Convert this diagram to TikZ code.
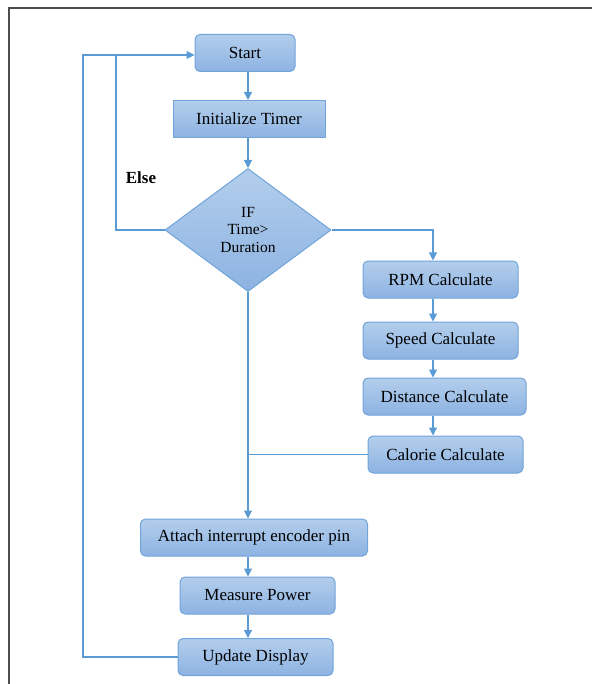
\documentclass[tikz,border=0pt]{standalone}
\usepackage{fontspec}
\setmainfont{Liberation Serif}
\usetikzlibrary{shapes.geometric,arrows.meta}
\definecolor{flowline}{HTML}{5B9BD5}
\definecolor{boxtop}{HTML}{B3CEEC}
\definecolor{boxbot}{HTML}{8DB3E2}
\definecolor{boxedge}{HTML}{70A4DA}
\tikzset{
  proc/.style={draw=boxedge, line width=1pt, rounded corners=5pt, top color=boxtop, bottom color=boxbot, minimum height=37pt, inner sep=2pt, font=\fontsize{17}{20}\selectfont},
  decision/.style={diamond, draw=boxedge, line width=1pt, top color=boxtop, bottom color=boxbot, minimum width=166pt, minimum height=123pt, inner sep=0pt, align=center, font=\fontsize{15.5}{17.5}\selectfont},
  flow/.style={draw=flowline, line width=1.1pt},
  arr/.style={flow, -{Triangle[length=8pt,width=8pt]}}
}

\begin{document}
\begin{tikzpicture}[x=1pt, y=1pt, yscale=-1]
\useasboundingbox (0,0) rectangle (592,684);
\draw[black!70, line width=1.3pt] (9,684) -- (9,8) -- (592,8);
\node[proc, minimum width=100pt] (start) at (245,53) {Start};
\node[proc, sharp corners, minimum width=152pt] (init) at (249,119) {Initialize Timer};
\node[decision] (check) at (248,230) {IF\\Time>\\Duration};
\node[proc, minimum width=155pt] (rpm) at (440.5,279.5) {RPM Calculate};
\node[proc, minimum width=155pt] (speed) at (440.5,340.5) {Speed Calculate};
\node[proc, minimum width=163pt] (distance) at (444.5,396.5) {Distance Calculate};
\node[proc, minimum width=155pt] (calorie) at (445.5,454.5) {Calorie Calculate};
\node[proc, minimum width=227pt] (attach) at (254,537.5) {Attach interrupt encoder pin};
\node[proc, minimum width=155pt] (power) at (257.5,595.5) {Measure Power};
\node[proc, minimum width=155pt] (update) at (255.5,657) {Update Display};
\node[font=\bfseries\fontsize{17}{20}\selectfont] (else) at (141,178) {Else};
\coordinate (elsetop) at (116,55);
\coordinate (looptop) at (83,55);
\coordinate (rcol) at (433,0);
\coordinate (mcol) at (248,0);
\draw[arr] (mcol |- start.south) -- (mcol |- init.north);
\draw[arr] (mcol |- init.south) -- (check.north);
\draw[flow] (check.west) -| (elsetop);
\draw[arr] (update.west) -| (looptop) -- (looptop -| start.west);
\draw[arr] (check.east) -| (rcol |- rpm.north);
\draw[arr] (rcol |- rpm.south) -- (rcol |- speed.north);
\draw[arr] (rcol |- speed.south) -- (rcol |- distance.north);
\draw[arr] (rcol |- distance.south) -- (rcol |- calorie.north);
\draw[flow] (calorie.west) -- (calorie.west -| check.south);
\draw[arr] (check.south) -- (check.south |- attach.north);
\draw[arr] (mcol |- attach.south) -- (mcol |- power.north);
\draw[arr] (mcol |- power.south) -- (mcol |- update.north);
\end{tikzpicture}
\end{document}
